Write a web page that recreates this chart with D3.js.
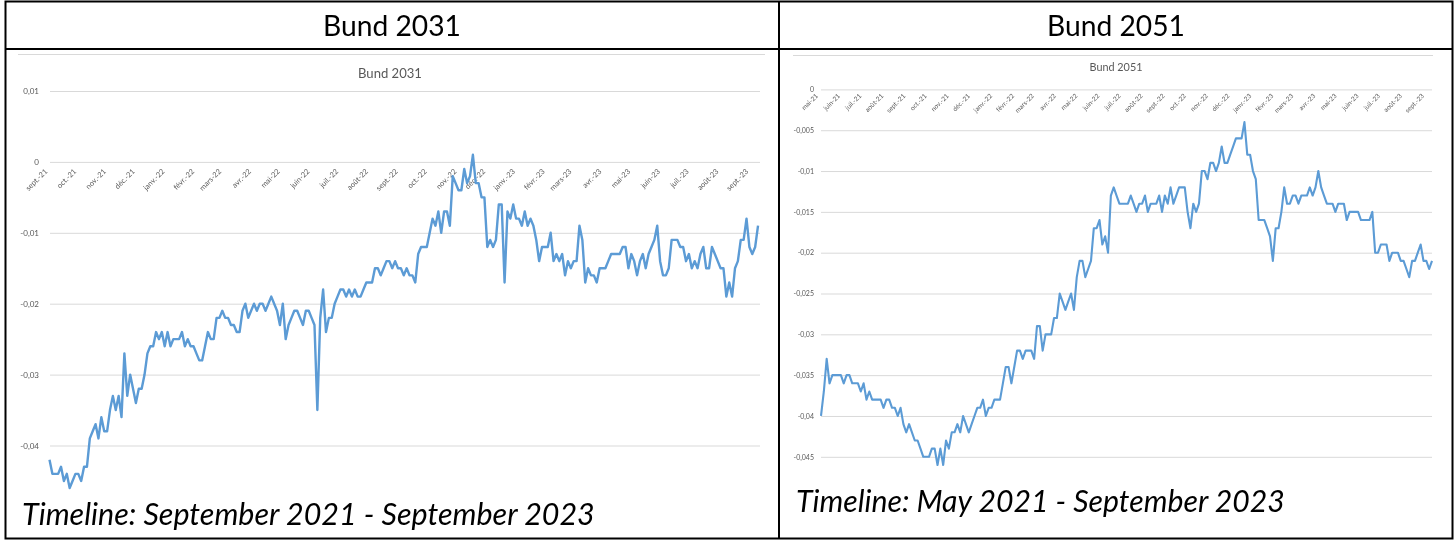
<!DOCTYPE html>
<html>
<head>
<meta charset="utf-8">
<script src="https://cdn.jsdelivr.net/npm/d3@7"></script>
<style>
  body { margin: 0; background: #fff; }
  svg { display: block; }
</style>
</head>
<body>
<svg id="page" width="1455" height="540"></svg>
<script>
// ---------- data ----------
const monthAbbr = ["janv.", "févr.", "mars", "avr.", "mai", "juin", "juil.", "août", "sept.", "oct.", "nov.", "déc."];

// Bund 2031: one value every 3 days from 1 Sept 2021
const bund2031Start = "2021-09-01";
const bund2031End = "2023-09-10";
const bund2031StepDays = 3;
const bund2031Values = [
  -0.042,-0.044,-0.044,-0.044,-0.043,-0.045,-0.044,-0.046,-0.045,-0.044,-0.044,-0.045,-0.043,-0.043,-0.039,
  -0.038,-0.037,-0.039,-0.036,-0.038,-0.038,-0.035,-0.033,-0.035,-0.033,-0.036,-0.027,-0.033,-0.030,-0.032,
  -0.034,-0.032,-0.032,-0.030,-0.027,-0.026,-0.026,-0.024,-0.025,-0.024,-0.026,-0.024,-0.026,-0.025,-0.025,
  -0.025,-0.024,-0.026,-0.025,-0.026,-0.026,-0.027,-0.028,-0.028,-0.026,-0.024,-0.025,-0.025,-0.022,-0.022,
  -0.021,-0.022,-0.022,-0.023,-0.023,-0.024,-0.024,-0.021,-0.020,-0.022,-0.021,-0.020,-0.021,-0.020,-0.020,
  -0.021,-0.020,-0.019,-0.020,-0.021,-0.023,-0.020,-0.025,-0.023,-0.022,-0.021,-0.021,-0.022,-0.023,-0.021,
  -0.021,-0.022,-0.023,-0.035,-0.022,-0.018,-0.024,-0.022,-0.022,-0.020,-0.019,-0.018,-0.018,-0.019,-0.018,
  -0.019,-0.018,-0.019,-0.019,-0.018,-0.017,-0.017,-0.017,-0.015,-0.015,-0.016,-0.015,-0.014,-0.014,-0.015,
  -0.014,-0.015,-0.015,-0.016,-0.015,-0.016,-0.016,-0.017,-0.013,-0.012,-0.012,-0.012,-0.010,-0.008,-0.009,
  -0.007,-0.010,-0.007,-0.007,-0.009,-0.002,-0.003,-0.004,-0.004,-0.001,-0.003,-0.002,0.001,-0.003,-0.003,
  -0.005,-0.005,-0.012,-0.011,-0.012,-0.011,-0.006,-0.006,-0.017,-0.007,-0.008,-0.006,-0.008,-0.008,-0.009,
  -0.007,-0.009,-0.008,-0.009,-0.011,-0.014,-0.012,-0.012,-0.012,-0.010,-0.014,-0.013,-0.014,-0.013,-0.016,
  -0.014,-0.015,-0.014,-0.014,-0.009,-0.011,-0.017,-0.015,-0.016,-0.016,-0.017,-0.015,-0.015,-0.015,-0.014,
  -0.013,-0.013,-0.013,-0.013,-0.012,-0.012,-0.015,-0.013,-0.014,-0.016,-0.014,-0.013,-0.015,-0.013,-0.012,
  -0.011,-0.009,-0.014,-0.016,-0.016,-0.015,-0.011,-0.011,-0.011,-0.012,-0.012,-0.014,-0.013,-0.015,-0.014,
  -0.015,-0.013,-0.012,-0.015,-0.015,-0.012,-0.013,-0.014,-0.015,-0.015,-0.019,-0.017,-0.019,-0.015,-0.014,
  -0.011,-0.011,-0.008,-0.012,-0.013,-0.012,-0.009
];
const bund2031Ticks = [0.01, 0, -0.01, -0.02, -0.03, -0.04];

// Bund 2051: one value every 4 days from 1 May 2021
const bund2051Start = "2021-05-01";
const bund2051End = "2023-09-08";
const bund2051StepDays = 4;
const bund2051Values = [
  -0.040,-0.037,-0.033,-0.036,-0.035,-0.035,-0.035,-0.035,-0.036,-0.035,-0.035,-0.036,-0.036,-0.036,-0.037,
  -0.036,-0.038,-0.037,-0.038,-0.038,-0.038,-0.038,-0.039,-0.038,-0.038,-0.039,-0.039,-0.040,-0.039,-0.041,
  -0.042,-0.041,-0.042,-0.043,-0.043,-0.044,-0.045,-0.045,-0.045,-0.044,-0.044,-0.046,-0.044,-0.046,-0.043,
  -0.044,-0.042,-0.042,-0.041,-0.042,-0.040,-0.041,-0.042,-0.041,-0.040,-0.039,-0.039,-0.038,-0.040,-0.039,
  -0.039,-0.038,-0.038,-0.038,-0.036,-0.034,-0.034,-0.036,-0.034,-0.032,-0.032,-0.033,-0.032,-0.032,-0.032,
  -0.033,-0.029,-0.029,-0.032,-0.030,-0.030,-0.030,-0.028,-0.028,-0.025,-0.026,-0.027,-0.026,-0.025,-0.027,
  -0.023,-0.021,-0.021,-0.023,-0.022,-0.021,-0.017,-0.017,-0.016,-0.019,-0.018,-0.020,-0.013,-0.012,-0.013,
  -0.014,-0.014,-0.014,-0.014,-0.013,-0.014,-0.015,-0.014,-0.014,-0.013,-0.015,-0.014,-0.014,-0.014,-0.013,
  -0.015,-0.013,-0.014,-0.012,-0.014,-0.013,-0.012,-0.012,-0.012,-0.015,-0.017,-0.014,-0.015,-0.014,-0.010,
  -0.010,-0.011,-0.009,-0.009,-0.010,-0.009,-0.007,-0.009,-0.009,-0.008,-0.007,-0.006,-0.006,-0.006,-0.004,
  -0.008,-0.008,-0.010,-0.011,-0.016,-0.016,-0.016,-0.017,-0.018,-0.021,-0.017,-0.017,-0.015,-0.012,-0.014,
  -0.014,-0.013,-0.013,-0.014,-0.013,-0.013,-0.013,-0.012,-0.013,-0.012,-0.010,-0.012,-0.013,-0.014,-0.014,
  -0.014,-0.015,-0.014,-0.014,-0.014,-0.016,-0.015,-0.015,-0.015,-0.015,-0.016,-0.016,-0.016,-0.016,-0.015,
  -0.020,-0.020,-0.019,-0.019,-0.019,-0.021,-0.020,-0.020,-0.020,-0.021,-0.021,-0.022,-0.023,-0.021,-0.021,
  -0.020,-0.019,-0.021,-0.021,-0.022,-0.021
];
const bund2051Ticks = [0, -0.005, -0.01, -0.015, -0.02, -0.025, -0.03, -0.035, -0.04, -0.045];

// ---------- helpers ----------
const svg = d3.select("#page");
const frLocale = d3.formatLocale({ decimal: ",", thousands: " ", grouping: [3], currency: ["", " €"], minus: "-" });
const fmtTick = frLocale.format("~g");
const parseDay = d3.utcParse("%Y-%m-%d");
const monthLabel = d => monthAbbr[d.getUTCMonth()] + "-" + String(d.getUTCFullYear()).slice(2);

// the embedded chart pictures are slightly soft
svg.append("defs").append("filter").attr("id", "soft")
  .append("feGaussianBlur").attr("stdDeviation", 0.35);

// scale a text's font size so it spans the given width
function fitWidth(sel, width) {
  const node = sel.node();
  const size = parseFloat(sel.attr("font-size"));
  const w = node.getComputedTextLength();
  sel.attr("font-size", (size * width / w).toFixed(2));
}

function series(startStr, step, values) {
  const t0 = parseDay(startStr);
  return values.map((v, i) => ({ date: d3.utcDay.offset(t0, i * step), value: v }));
}

function drawChart(cfg) {
  const g = svg.append("g").attr("filter", "url(#soft)");
  const x = d3.scaleUtc().domain([parseDay(cfg.start), parseDay(cfg.end)]).range(cfg.xRange);
  const y = d3.scaleLinear().domain(cfg.yDomain).range(cfg.yRange);

  // horizontal gridlines with value labels
  const yAxis = d3.axisLeft(y).tickValues(cfg.ticks).tickFormat(fmtTick)
    .tickSize(-(cfg.gridRange[1] - cfg.gridRange[0])).tickPadding(cfg.tickPad);
  const ya = g.append("g").attr("transform", `translate(${cfg.gridRange[0]},0)`).call(yAxis);
  ya.select(".domain").remove();
  ya.selectAll(".tick line").attr("stroke", "#d9d9d9").attr("stroke-width", 1);
  ya.selectAll(".tick text").attr("fill", "#595959").attr("font-family", "Lato, 'Open Sans', sans-serif")
    .attr("font-size", cfg.yFont);

  // month labels, slanted, sitting just under the zero line
  const months = d3.utcMonth.range(parseDay(cfg.start), parseDay(cfg.end));
  const xAxis = d3.axisBottom(x).tickValues(months).tickFormat(monthLabel).tickSize(0).tickPadding(0);
  const xa = g.append("g").attr("transform", `translate(0,${y(0)})`).call(xAxis);
  xa.select(".domain").remove();
  xa.selectAll(".tick text")
    .attr("fill", "#595959").attr("font-family", "Lato, 'Open Sans', sans-serif")
    .attr("font-size", cfg.xFont)
    .attr("text-anchor", "end")
    .attr("dy", 0)
    .attr("y", 0)
    .attr("transform", `translate(${cfg.xLabelDx},${cfg.xLabelDy}) rotate(-45)`);

  // the yield line
  const line = d3.line().x(d => x(d.date)).y(d => y(d.value));
  g.append("path").datum(cfg.data)
    .attr("fill", "none").attr("stroke", "#5b9bd5").attr("stroke-width", cfg.lineWidth)
    .attr("stroke-linejoin", "round").attr("d", line);

  // chart title
  const t = g.append("text").attr("x", cfg.title.x).attr("y", cfg.title.y)
    .attr("text-anchor", "middle").attr("fill", "#595959")
    .attr("font-family", "Lato, 'Open Sans', sans-serif").attr("font-size", 12).text(cfg.title.text);
  fitWidth(t, cfg.title.width);

  // top edge of the chart area
  g.append("line").attr("x1", cfg.edge[0]).attr("x2", cfg.edge[1]).attr("y1", cfg.edge[2]).attr("y2", cfg.edge[2])
    .attr("stroke", "#d9d9d9").attr("stroke-width", 1);
}

// ---------- charts ----------
drawChart({
  start: bund2031Start, end: bund2031End,
  data: series(bund2031Start, bund2031StepDays, bund2031Values),
  xRange: [49.5, 759], yDomain: [-0.04, 0.01], yRange: [445.5, 91],
  gridRange: [50, 760], ticks: bund2031Ticks, tickPad: 11,
  yFont: 8, xFont: 7.5, xLabelDx: -2, xLabelDy: 10, lineWidth: 2.4,
  title: { text: "Bund 2031", x: 390, y: 78, width: 64 },
  edge: [18, 765, 54.5]
});

drawChart({
  start: bund2051Start, end: bund2051End,
  data: series(bund2051Start, bund2051StepDays, bund2051Values),
  xRange: [821, 1432], yDomain: [-0.045, 0], yRange: [456.8, 89.4],
  gridRange: [821, 1432], ticks: bund2051Ticks, tickPad: 7,
  yFont: 7, xFont: 6.5, xLabelDx: -3, xLabelDy: 7, lineWidth: 2.1,
  title: { text: "Bund 2051", x: 1116, y: 71, width: 53 },
  edge: [793, 1433, 55.5]
});

// ---------- table frame, headers and captions ----------
const frame = svg.append("g").attr("stroke", "#000").attr("stroke-width", 2).attr("fill", "none");
frame.append("rect").attr("x", 5.5).attr("y", 1.5).attr("width", 1447).attr("height", 537);
frame.append("line").attr("x1", 5.5).attr("x2", 1452.5).attr("y1", 49).attr("y2", 49);
frame.append("line").attr("x1", 779).attr("x2", 779).attr("y1", 1.5).attr("y2", 538.5);

const headers = [
  { text: "Bund 2031", x: 392, y: 36, width: 138 },
  { text: "Bund 2051", x: 1116, y: 36, width: 138 }
];
headers.forEach(h => {
  const t = svg.append("text").attr("x", h.x).attr("y", h.y).attr("text-anchor", "middle")
    .attr("fill", "#000").attr("font-family", "Lato, 'Open Sans', sans-serif").attr("font-size", 26).text(h.text);
  fitWidth(t, h.width);
});

const captions = [
  { text: "Timeline: September 2021 - September 2023", x: 22, y: 525, width: 573 },
  { text: "Timeline: May 2021 - September 2023", x: 796, y: 512, width: 489 }
];
captions.forEach(c => {
  const t = svg.append("text").attr("x", c.x).attr("y", c.y).attr("fill", "#000")
    .attr("font-family", "Lato, 'Open Sans', sans-serif").attr("font-style", "italic")
    .attr("font-size", 28).text(c.text);
  fitWidth(t, c.width);
});
</script>
</body>
</html>
